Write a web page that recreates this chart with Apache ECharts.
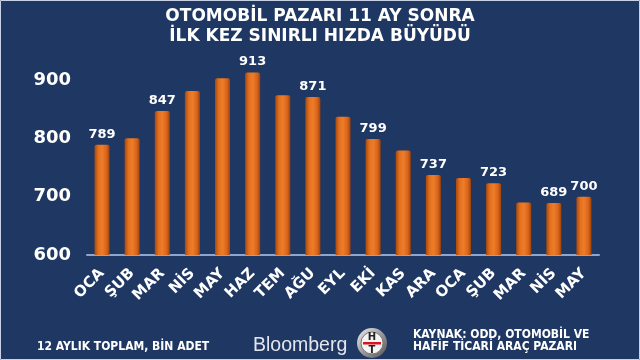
<!DOCTYPE html>
<html>
<head>
<meta charset="utf-8">
<script src="https://cdn.jsdelivr.net/npm/echarts@6/dist/echarts.min.js"></script>
<style>html,body{margin:0;padding:0;background:#1f3763;}#c{width:640px;height:360px;}</style>
</head>
<body>
<div id="c"></div>
<script>
const categories = ['OCA','ŞUB','MAR','NİS','MAY','HAZ','TEM','AĞU','EYL','EKİ','KAS','ARA','OCA','ŞUB','MAR','NİS','MAY'];
const values = [789, 800, 847, 881, 903, 913, 874, 871, 837, 799, 779, 737, 732, 723, 690, 689, 700];
const labeledIdx = [0, 2, 5, 7, 9, 11, 13, 15, 16];
const yTicks = [600, 700, 800, 900];
const titleLines = ['OTOMOBİL PAZARI 11 AY SONRA', 'İLK KEZ SINIRLI HIZDA BÜYÜDÜ'];
const noteLeft = '12 AYLIK TOPLAM, BİN ADET';
const noteRight = ['KAYNAK: ODD, OTOMOBİL VE', 'HAFİF TİCARİ ARAÇ PAZARI'];

const FONT = 'DejaVu Sans';
const chart = echarts.init(document.getElementById('c'));
const barColor = new echarts.graphic.LinearGradient(0, 0, 1, 0, [
  {offset: 0, color: '#a9490c'},
  {offset: 0.25, color: '#e2701f'},
  {offset: 0.5, color: '#ee7d2a'},
  {offset: 0.8, color: '#d8641a'},
  {offset: 1, color: '#9c420b'}
]);
const data = values.map((v, i) => ({
  value: v,
  label: {show: labeledIdx.indexOf(i) >= 0}
}));
chart.setOption({
  backgroundColor: '#1f3763',
  animation: false,
  title: {
    text: titleLines.join('\n'),
    left: 'center',
    top: 2,
    textStyle: {color: '#ffffff', fontFamily: FONT, fontWeight: 'bold', fontSize: 17, lineHeight: 20}
  },
  grid: {left: 87, right: 41, top: 21.7, bottom: 105},
  xAxis: {
    type: 'category',
    data: categories,
    axisLine: {lineStyle: {color: '#8ea6cc', width: 2}},
    axisTick: {show: false},
    axisLabel: {
      rotate: 45, color: '#ffffff', fontFamily: FONT, fontWeight: 'bold', fontSize: 15,
      margin: 16, interval: 0
    }
  },
  yAxis: {
    type: 'value',
    min: 600, max: 1000, interval: 100,
    splitLine: {show: false},
    axisLine: {show: false},
    axisTick: {show: false},
    axisLabel: {
      color: '#ffffff', fontFamily: FONT, fontWeight: 'bold', fontSize: 18, margin: 16,
      formatter: v => yTicks.indexOf(v) >= 0 ? String(v) : ''
    }
  },
  series: [{
    type: 'bar',
    data: data,
    barWidth: 15,
    itemStyle: {color: barColor, borderRadius: [2, 2, 0, 0]},
    label: {
      position: 'top', distance: 4, color: '#ffffff',
      fontFamily: FONT, fontWeight: 'bold', fontSize: 13
    }
  }],
  graphic: [
    {type: 'rect', shape: {x: 0.5, y: 0.5, width: 639, height: 359}, style: {fill: 'none', stroke: '#c8d2e4', lineWidth: 1}, silent: true},
    {type: 'text', left: 37, top: 341, style: {text: noteLeft, fill: '#ffffff', font: 'bold 12px "DejaVu Sans Condensed"'}},
    {type: 'text', left: 253, top: 336, style: {text: 'Bloomberg', fill: '#e4e6ee', font: '19.5px "Liberation Sans"'}},
    {type: 'group', left: 357, top: 328, children: [
      {type: 'circle', shape: {cx: 15, cy: 15, r: 15}, style: {fill: new echarts.graphic.LinearGradient(0,0,1,1,[{offset:0,color:'#f0f0f0'},{offset:0.5,color:'#9a9a9a'},{offset:1,color:'#555'}])}},
      {type: 'circle', shape: {cx: 15, cy: 15, r: 11}, style: {fill: '#f4f4f4', stroke: '#777', lineWidth: 1}},
      {type: 'text', style: {x: 15, y: 9, text: 'H', fill: '#222', font: 'bold 10px "DejaVu Sans"', align: 'center', verticalAlign: 'middle'}},
      {type: 'rect', shape: {x: 6, y: 14, width: 18, height: 2.5}, style: {fill: '#d8141c'}},
      {type: 'text', style: {x: 15, y: 22, text: 'T', fill: '#222', font: 'bold 10px "DejaVu Sans"', align: 'center', verticalAlign: 'middle'}}
    ]},
    {type: 'text', left: 413, top: 329, style: {text: noteRight.join('\n'), fill: '#ffffff', font: 'bold 12px "DejaVu Sans Condensed"', lineHeight: 12}}
  ]
});
</script>
</body>
</html>
